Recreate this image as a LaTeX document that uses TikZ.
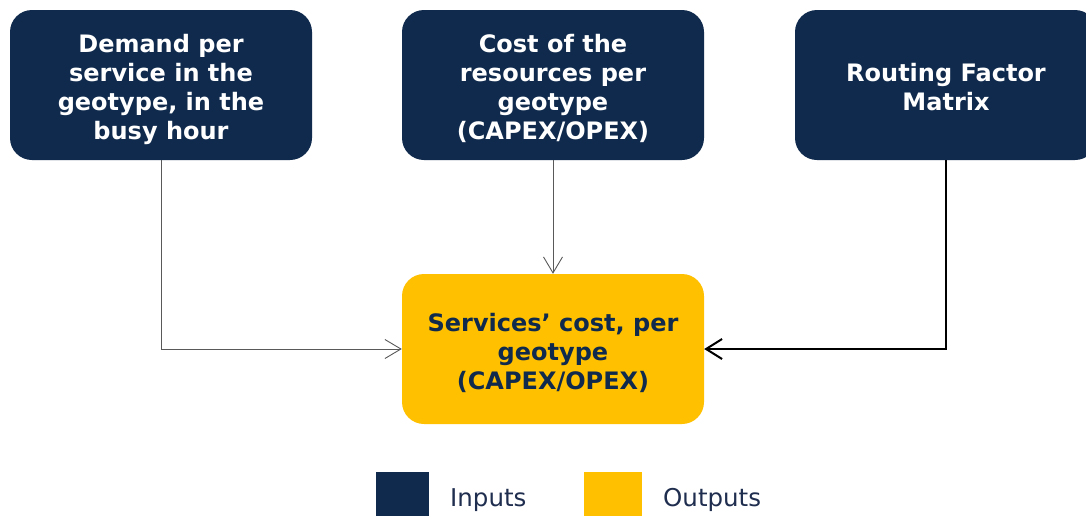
\documentclass[tikz,border=0pt]{standalone}
\usepackage{fontspec}
\setmainfont{DejaVu Sans}
\usetikzlibrary{arrows.meta}

\definecolor{navy}{HTML}{0F2A4D}
\definecolor{gold}{HTML}{FFC000}
\definecolor{legendtext}{HTML}{1F2D4E}

% centred lines, drawn a little lower inside the box
\newcommand{\boxlines}[1]{\raisebox{-5.5pt}[\height][\depth]{\begin{tabular}{@{}c@{}}#1\end{tabular}}}

\tikzset{
    inbox/.style={fill=navy, text=white, rounded corners=22pt, minimum width=302pt, minimum height=150pt,
        font=\bfseries\fontsize{24}{29}\selectfont, inner sep=0pt},
    outbox/.style={inbox, fill=gold, text=navy},
    thinarrow/.style={draw=black!65, line width=0.9pt, -{Straight Barb[length=16pt,width=19pt,line width=0.9pt]}},
    thickarrow/.style={draw=black, line width=2pt, -{Straight Barb[length=16pt,width=20pt,line width=2pt]}},
    legendbox/.style={minimum height=52pt, inner sep=0pt, anchor=north west},
    legendlabel/.style={text=legendtext, anchor=west, inner sep=0pt, font=\fontsize{24.5}{29}\selectfont}
}

\begin{document}
\begin{tikzpicture}[x=1pt,y=-1pt]
    \clip (0,0) rectangle (1086,515);
    \fill[white] (0,0) rectangle (1086,515);

    % Inputs
    \node[inbox] (demand) at (161,85) {\boxlines{Demand per\\service in the\\geotype, in the\\busy hour}};
    \node[inbox] (cost) at (553,85) {\boxlines{Cost of the\\resources per\\geotype\\(CAPEX/OPEX)}};
    \node[inbox] (routing) at (946,85) {\boxlines{Routing Factor\\Matrix}};

    % Output
    \node[outbox] (services) at (553,349) {\boxlines{Services’ cost, per\\geotype\\(CAPEX/OPEX)}};

    % Connectors
    \draw[thinarrow] (demand.south) |- (services.west);
    \draw[thinarrow] (cost.south) -- (services.north);
    \draw[thickarrow] (routing.south) |- (services.east);

    % Legend
    \node[legendbox, fill=navy, minimum width=53pt] (keyin) at (376,472) {};
    \node[legendlabel] (keyintext) at (450,500) {Inputs};
    \node[legendbox, fill=gold, minimum width=58pt] (keyout) at (584,472) {};
    \node[legendlabel] (keyouttext) at (663,500) {Outputs};
\end{tikzpicture}
\end{document}
